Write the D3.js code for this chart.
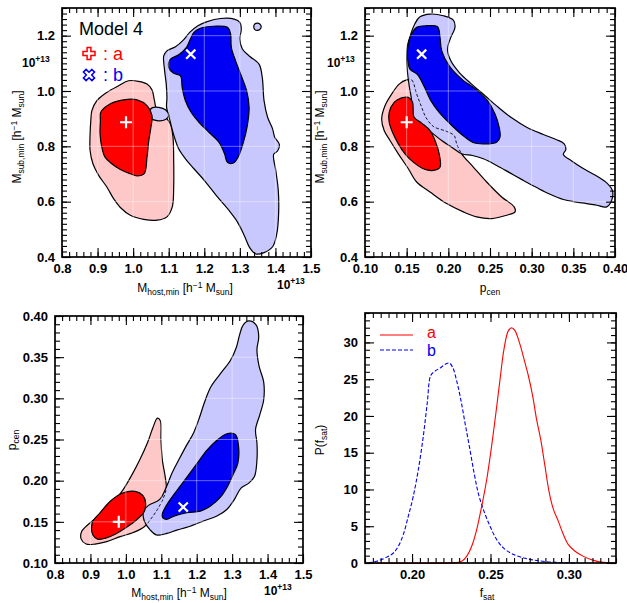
<!DOCTYPE html>
<html>
<head>
<meta charset="utf-8">
<script src="https://cdn.jsdelivr.net/npm/d3@7"></script>
<style>
body { margin: 0; background: #fff; }
svg text { font-family: "Liberation Sans", Arial, Helvetica, sans-serif; }
</style>
</head>
<body>
<svg id="fig" width="627" height="603"></svg>
<script>
// ---- data ----
// best fit points: [Mhost (1e13), Msub (1e13), pcen]
var bestA = [0.980, 0.887, 0.150];
var bestB = [1.162, 1.133, 0.168];

// panel 1 : Mhost vs Msub
var p1RedOuter = [[0.884,0.929],[0.898,0.965],[0.926,0.995],[0.959,1.019],[0.987,1.037],[1.015,1.035],[1.039,1.025],[1.053,1.004],[1.060,0.965],[1.067,0.929],[1.091,0.905],[1.105,0.881],[1.112,0.833],[1.114,0.749],[1.114,0.653],[1.110,0.581],[1.095,0.545],[1.067,0.533],[1.030,0.536],[0.992,0.551],[0.964,0.579],[0.945,0.611],[0.926,0.653],[0.903,0.695],[0.887,0.737],[0.879,0.785],[0.879,0.845],[0.881,0.893]];
var p1RedInner = [[0.909,0.923],[0.935,0.953],[0.973,0.968],[1.011,0.968],[1.039,0.947],[1.053,0.911],[1.050,0.869],[1.044,0.821],[1.039,0.761],[1.031,0.701],[1.011,0.693],[0.992,0.701],[0.964,0.716],[0.940,0.737],[0.921,0.761],[0.912,0.797],[0.907,0.845],[0.908,0.893]];
var p1BlueOuter = [[1.086,1.127],[1.095,1.145],[1.119,1.160],[1.141,1.184],[1.159,1.212],[1.182,1.236],[1.208,1.251],[1.246,1.262],[1.284,1.260],[1.300,1.248],[1.304,1.224],[1.300,1.188],[1.307,1.152],[1.329,1.124],[1.354,1.097],[1.363,1.049],[1.368,0.965],[1.378,0.905],[1.392,0.863],[1.398,0.833],[1.411,0.807],[1.406,0.783],[1.395,0.771],[1.401,0.713],[1.408,0.641],[1.409,0.557],[1.404,0.485],[1.392,0.437],[1.368,0.416],[1.345,0.411],[1.329,0.431],[1.312,0.479],[1.293,0.527],[1.269,0.569],[1.237,0.617],[1.204,0.671],[1.171,0.719],[1.147,0.755],[1.128,0.791],[1.116,0.833],[1.107,0.875],[1.100,0.911],[1.094,0.941],[1.095,0.977],[1.093,1.025],[1.088,1.079]];
var p1BlueBlob = [[1.044,0.923],[1.053,0.939],[1.072,0.941],[1.091,0.932],[1.100,0.911],[1.091,0.897],[1.067,0.893],[1.048,0.903]];
var p1BlueDot = [[1.360,1.232],[1.356,1.242],[1.349,1.245],[1.342,1.242],[1.339,1.232],[1.342,1.222],[1.349,1.219],[1.356,1.222]];
var p1BlueInner = [[1.171,1.212],[1.189,1.227],[1.227,1.234],[1.265,1.230],[1.274,1.206],[1.276,1.158],[1.288,1.109],[1.304,1.055],[1.319,1.001],[1.326,0.941],[1.321,0.875],[1.310,0.815],[1.295,0.761],[1.282,0.740],[1.265,0.742],[1.257,0.773],[1.241,0.815],[1.213,0.851],[1.185,0.887],[1.163,0.923],[1.147,0.965],[1.138,1.011],[1.133,1.055],[1.114,1.064],[1.100,1.085],[1.105,1.115],[1.128,1.131],[1.150,1.158],[1.161,1.188]];

// panel 2 : pcen vs Msub
var p2RedOuter = [[0.150,1.040],[0.156,1.040],[0.162,0.989],[0.168,0.941],[0.173,0.905],[0.182,0.872],[0.198,0.854],[0.207,0.839],[0.210,0.809],[0.216,0.773],[0.230,0.725],[0.246,0.671],[0.264,0.617],[0.279,0.581],[0.280,0.563],[0.270,0.551],[0.252,0.539],[0.234,0.545],[0.218,0.563],[0.198,0.593],[0.178,0.635],[0.162,0.671],[0.152,0.719],[0.140,0.773],[0.130,0.821],[0.123,0.857],[0.120,0.899],[0.124,0.947],[0.132,0.989],[0.141,1.025]];
var p2RedInner = [[0.129,0.923],[0.135,0.959],[0.144,0.975],[0.152,0.977],[0.157,0.959],[0.159,0.905],[0.168,0.884],[0.178,0.857],[0.184,0.821],[0.189,0.773],[0.190,0.725],[0.182,0.713],[0.170,0.719],[0.158,0.743],[0.148,0.773],[0.140,0.809],[0.133,0.851],[0.129,0.887]];
var p2BlueOuter = [[0.166,1.268],[0.178,1.278],[0.194,1.272],[0.206,1.256],[0.208,1.230],[0.203,1.194],[0.199,1.151],[0.203,1.109],[0.214,1.064],[0.228,1.025],[0.244,0.983],[0.260,0.941],[0.276,0.903],[0.294,0.869],[0.314,0.843],[0.330,0.824],[0.339,0.809],[0.341,0.788],[0.338,0.771],[0.348,0.747],[0.364,0.716],[0.380,0.689],[0.391,0.665],[0.397,0.639],[0.396,0.605],[0.390,0.581],[0.378,0.587],[0.366,0.593],[0.352,0.599],[0.338,0.608],[0.322,0.627],[0.306,0.651],[0.290,0.677],[0.274,0.704],[0.258,0.731],[0.242,0.755],[0.229,0.767],[0.216,0.773],[0.204,0.797],[0.192,0.821],[0.182,0.845],[0.172,0.869],[0.161,0.887],[0.157,0.911],[0.156,0.965],[0.153,1.019],[0.151,1.067],[0.150,1.115],[0.151,1.164],[0.155,1.206],[0.160,1.244]];
var p2BlueInner = [[0.162,1.230],[0.174,1.236],[0.187,1.232],[0.190,1.194],[0.192,1.146],[0.201,1.091],[0.216,1.043],[0.234,1.004],[0.247,0.965],[0.256,0.917],[0.261,0.869],[0.262,0.833],[0.258,0.815],[0.242,0.809],[0.229,0.815],[0.216,0.843],[0.203,0.879],[0.189,0.923],[0.179,0.965],[0.171,1.016],[0.163,1.059],[0.154,1.079],[0.151,1.121],[0.152,1.170],[0.156,1.206]];

// panel 3 : Mhost vs pcen
var p3RedOuter = [[1.089,0.276],[1.097,0.273],[1.099,0.250],[1.103,0.225],[1.111,0.205],[1.114,0.191],[1.104,0.177],[1.089,0.165],[1.073,0.155],[1.052,0.144],[1.021,0.137],[0.984,0.132],[0.946,0.126],[0.913,0.123],[0.888,0.123],[0.874,0.129],[0.875,0.138],[0.897,0.148],[0.927,0.159],[0.960,0.172],[0.989,0.187],[1.017,0.207],[1.040,0.226],[1.061,0.246],[1.076,0.264]];
var p3RedInner = [[0.907,0.151],[0.927,0.161],[0.956,0.175],[0.991,0.185],[1.026,0.187],[1.048,0.182],[1.056,0.172],[1.050,0.161],[1.029,0.152],[1.001,0.143],[0.970,0.135],[0.941,0.130],[0.920,0.129],[0.907,0.134],[0.903,0.142]];
var p3BlueOuter = [[1.347,0.394],[1.368,0.389],[1.375,0.375],[1.370,0.359],[1.376,0.339],[1.389,0.320],[1.389,0.298],[1.378,0.280],[1.366,0.262],[1.370,0.246],[1.370,0.225],[1.363,0.205],[1.347,0.197],[1.325,0.191],[1.306,0.177],[1.285,0.165],[1.257,0.157],[1.219,0.151],[1.177,0.144],[1.144,0.140],[1.116,0.136],[1.087,0.134],[1.069,0.140],[1.052,0.151],[1.050,0.163],[1.064,0.170],[1.095,0.177],[1.114,0.192],[1.130,0.209],[1.149,0.225],[1.170,0.242],[1.191,0.258],[1.208,0.277],[1.221,0.294],[1.240,0.314],[1.267,0.330],[1.295,0.346],[1.312,0.362],[1.321,0.377],[1.331,0.389]];
var p3BlueInner = [[1.102,0.157],[1.116,0.171],[1.144,0.188],[1.172,0.204],[1.201,0.221],[1.229,0.237],[1.257,0.249],[1.285,0.257],[1.309,0.256],[1.318,0.242],[1.316,0.221],[1.302,0.207],[1.287,0.193],[1.267,0.180],[1.238,0.169],[1.210,0.163],[1.172,0.161],[1.136,0.157],[1.114,0.153]];

// panel 4 : P(fsat)
var fsatA = [[0.170,0],[0.2284,0.05],[0.2316,0.23],[0.2348,0.91],[0.2380,2.27],[0.2412,4.55],[0.2444,7.73],[0.2476,11.36],[0.2507,15.9],[0.2535,20.5],[0.2561,25.0],[0.2586,29.1],[0.2614,31.6],[0.2635,32.0],[0.2656,31.6],[0.2684,30.0],[0.2714,27.7],[0.2741,25.5],[0.2769,22.7],[0.2794,19.5],[0.2820,16.8],[0.2847,13.2],[0.2875,9.5],[0.2901,7.3],[0.2932,5.7],[0.2964,3.9],[0.2996,2.5],[0.3039,1.6],[0.3092,0.9],[0.3156,0.36],[0.3219,0.09],[0.330,0]];
var fsatB = [[0.1721,0],[0.1774,0.23],[0.1827,0.68],[0.1881,1.36],[0.1912,2.27],[0.1944,3.86],[0.1976,6.36],[0.2008,9.1],[0.2040,12.7],[0.2072,17.3],[0.2097,21.8],[0.2119,25.5],[0.2146,26.1],[0.2178,26.5],[0.2210,27.0],[0.2238,27.2],[0.2259,26.6],[0.2284,24.8],[0.2310,22.3],[0.2337,19.1],[0.2365,15.9],[0.2395,12.3],[0.2422,9.5],[0.2454,7.3],[0.2497,5.0],[0.2539,3.2],[0.2582,2.05],[0.2635,1.27],[0.2699,0.77],[0.2773,0.41],[0.2858,0.18],[0.2964,0.05],[0.3049,0]];

// tick labels
var hostTicks = [0.8, 0.9, 1.0, 1.1, 1.2, 1.3, 1.4, 1.5];
var subTicks = [0.4, 0.6, 0.8, 1.0, 1.2];
var pcenXTicks = [0.10, 0.15, 0.20, 0.25, 0.30, 0.35, 0.40];
var pcenYTicks = [0.10, 0.15, 0.20, 0.25, 0.30, 0.35, 0.40];
var fsatTicks = [0.20, 0.25, 0.30];
var probTicks = [0, 5, 10, 15, 20, 25, 30];

var PINK = "#ffc8c8", RED = "#ff0000", LBLUE = "#c8c8ff", BLUE = "#0000f5";

var svg = d3.select("#fig");
var defs = svg.append("defs");
var clipId = 0;

function makePanel(o) {
  var g = svg.append("g");
  var x = d3.scaleLinear().domain(o.xd).range([o.l, o.r]);
  var y = d3.scaleLinear().domain(o.yd).range([o.b, o.t]);
  return { g: g, x: x, y: y, o: o };
}

function drawAxes(p) {
  var g = p.g, x = p.x, y = p.y, o = p.o;
  var xMinor = d3.range(0, Math.round((o.xd[1] - o.xd[0]) / o.xm) + 1).map(function(i) { return o.xd[0] + i * o.xm; });
  var yMinor = d3.range(0, Math.round((o.yd[1] - o.yd[0]) / o.ym) + 1).map(function(i) { return o.yd[0] + i * o.ym; });

  function ax(gen, tr, vals, len, fmt) {
    var a = gen.tickValues(vals).tickSizeInner(-len).tickSizeOuter(0).tickPadding(7);
    a.tickFormat(fmt ? fmt : "");
    var s = g.append("g").attr("transform", tr).call(a);
    s.select(".domain").remove();
    s.selectAll("line").attr("stroke", "#000").attr("stroke-width", 1.1);
    s.selectAll("text").attr("fill", "#000").style("font-size", "13px").style("font-weight", "bold");
    return s;
  }
  // minor ticks, all four sides
  ax(d3.axisBottom(x), "translate(0," + o.b + ")", xMinor, 5);
  ax(d3.axisTop(x), "translate(0," + o.t + ")", xMinor, 5);
  ax(d3.axisLeft(y), "translate(" + o.l + ",0)", yMinor, 5);
  ax(d3.axisRight(y), "translate(" + o.r + ",0)", yMinor, 5);
  // major ticks with labels
  ax(d3.axisBottom(x), "translate(0," + o.b + ")", o.xt, 9, d3.format(o.xf));
  ax(d3.axisTop(x), "translate(0," + o.t + ")", o.xt, 9);
  ax(d3.axisLeft(y), "translate(" + o.l + ",0)", o.yt, 9, d3.format(o.yf));
  ax(d3.axisRight(y), "translate(" + o.r + ",0)", o.yt, 9);

  g.append("rect").attr("x", o.l).attr("y", o.t)
    .attr("width", o.r - o.l).attr("height", o.b - o.t)
    .attr("fill", "none").attr("stroke", "#000").attr("stroke-width", 1.7);
}

function grid(p) {
  var g = p.g, o = p.o;
  g.append("g").selectAll("line.gx").data(o.xt).join("line")
    .attr("x1", function(d) { return p.x(d); }).attr("x2", function(d) { return p.x(d); })
    .attr("y1", o.t).attr("y2", o.b)
    .attr("stroke", "#fff").attr("stroke-opacity", 0.4).attr("stroke-width", 1);
  g.append("g").selectAll("line.gy").data(o.yt).join("line")
    .attr("y1", function(d) { return p.y(d); }).attr("y2", function(d) { return p.y(d); })
    .attr("x1", o.l).attr("x2", o.r)
    .attr("stroke", "#fff").attr("stroke-opacity", 0.4).attr("stroke-width", 1);
}

function closedLine(p) {
  return d3.line().x(function(d) { return p.x(d[0]); }).y(function(d) { return p.y(d[1]); })
    .curve(d3.curveCatmullRomClosed.alpha(0.5));
}

function region(p, pts, fill) {
  p.g.append("path").datum(pts).attr("d", closedLine(p))
    .attr("fill", fill).attr("stroke", "#000").attr("stroke-width", 1.2);
}

function dashedInside(p, pts, clipPts) {
  var id = "clip" + (clipId++);
  defs.append("clipPath").attr("id", id).append("path").datum(clipPts).attr("d", closedLine(p));
  p.g.append("path").datum(pts).attr("d", closedLine(p))
    .attr("fill", "none").attr("stroke", "#000").attr("stroke-width", 0.9)
    .attr("stroke-dasharray", "3,2").attr("clip-path", "url(#" + id + ")");
}

function plusMark(p, cx, cy) {
  var X = p.x(cx), Y = p.y(cy), s = 6;
  p.g.append("path").attr("d", "M" + (X - s) + "," + Y + "H" + (X + s) + "M" + X + "," + (Y - s) + "V" + (Y + s))
    .attr("stroke", "#fff").attr("stroke-width", 2.2);
}
function crossMark(p, cx, cy) {
  var X = p.x(cx), Y = p.y(cy), s = 4.6;
  p.g.append("path").attr("d", "M" + (X - s) + "," + (Y - s) + "L" + (X + s) + "," + (Y + s) + "M" + (X + s) + "," + (Y - s) + "L" + (X - s) + "," + (Y + s))
    .attr("stroke", "#fff").attr("stroke-width", 2.2);
}

// title with sub/superscripts: parts = [[text, "n"|"sub"|"sup"], ...]
function title(g, x, y, parts, rot) {
  var t = g.append("text").attr("text-anchor", "middle").style("font-size", "12px").attr("fill", "#000");
  if (rot) t.attr("transform", "translate(" + x + "," + y + ") rotate(-90)");
  else t.attr("x", x).attr("y", y);
  var shift = 0;
  parts.forEach(function(pt) {
    var target = pt[1] === "sub" ? 3 : pt[1] === "sup" ? -4 : 0;
    t.append("tspan").attr("dy", target - shift)
      .style("font-size", pt[1] === "n" ? "12px" : "8.5px").text(pt[0]);
    shift = target;
  });
}
function expo(g, x, y) {
  var t = g.append("text").attr("x", x).attr("y", y).attr("fill", "#000")
    .style("font-weight", "bold").style("font-size", "12px");
  t.append("tspan").text("10");
  t.append("tspan").attr("dy", -5).style("font-size", "8.5px").text("+13");
}

var massTitleHost = [["M", "n"], ["host,min", "sub"], [" [h", "n"], ["\u22121", "sup"], [" M", "n"], ["sun", "sub"], ["]", "n"]];
var massTitleSub = [["M", "n"], ["sub,min", "sub"], [" [h", "n"], ["\u22121", "sup"], [" M", "n"], ["sun", "sub"], ["]", "n"]];

// ---- panel 1 ----
var P1 = makePanel({ l: 62, r: 311, t: 8, b: 257, xd: [0.8, 1.5], yd: [0.4, 1.3],
  xt: hostTicks, yt: subTicks, xm: 0.02, ym: 0.02, xf: ".1f", yf: ".1f" });
region(P1, p1RedOuter, PINK);
region(P1, p1BlueOuter, LBLUE);
region(P1, p1BlueBlob, LBLUE);
region(P1, p1BlueDot, LBLUE);
region(P1, p1RedInner, RED);
region(P1, p1BlueInner, BLUE);
grid(P1);
plusMark(P1, bestA[0], bestA[1]);
crossMark(P1, bestB[0], bestB[1]);
drawAxes(P1);
expo(P1.g, 22, 67);
expo(P1.g, 277, 289);
title(P1.g, 185, 292, massTitleHost);
title(P1.g, 21, 137, massTitleSub, true);

// legend of panel 1
P1.g.append("text").attr("x", 79).attr("y", 35).style("font-size", "18px").text("Model 4");
(function() {
  var w = 1.9, L = 6;
  var cross = [[-w,-L],[w,-L],[w,-w],[L,-w],[L,w],[w,w],[w,L],[-w,L],[-w,w],[-L,w],[-L,-w],[-w,-w]];
  var path = "M" + cross.map(function(c) { return c.join(","); }).join("L") + "Z";
  P1.g.append("path").attr("d", path).attr("transform", "translate(89,53.5)")
    .attr("fill", "#fff").attr("stroke", RED).attr("stroke-width", 1.5);
  P1.g.append("path").attr("d", path).attr("transform", "translate(89,75) rotate(45)")
    .attr("fill", "#fff").attr("stroke", BLUE).attr("stroke-width", 1.5);
  P1.g.append("text").attr("x", 103).attr("y", 60).attr("fill", RED).style("font-size", "18px").text(": a");
  P1.g.append("text").attr("x", 103).attr("y", 81).attr("fill", BLUE).style("font-size", "18px").text(": b");
})();

// ---- panel 2 ----
var P2 = makePanel({ l: 365, r: 615, t: 8, b: 257, xd: [0.10, 0.40], yd: [0.4, 1.3],
  xt: pcenXTicks, yt: subTicks, xm: 0.01, ym: 0.02, xf: ".2f", yf: ".1f" });
region(P2, p2RedOuter, PINK);
region(P2, p2BlueOuter, LBLUE);
dashedInside(P2, p2RedOuter, p2BlueOuter);
region(P2, p2RedInner, RED);
region(P2, p2BlueInner, BLUE);
grid(P2);
plusMark(P2, bestA[2], bestA[1]);
crossMark(P2, bestB[2], bestB[1]);
drawAxes(P2);
expo(P2.g, 327, 67);
title(P2.g, 490, 292, [["p", "n"], ["cen", "sub"]]);
title(P2.g, 324, 137, massTitleSub, true);

// ---- panel 3 ----
var P3 = makePanel({ l: 55, r: 303, t: 316, b: 563, xd: [0.8, 1.5], yd: [0.10, 0.40],
  xt: hostTicks, yt: pcenYTicks, xm: 0.02, ym: 0.01, xf: ".1f", yf: ".2f" });
region(P3, p3RedOuter, PINK);
region(P3, p3BlueOuter, LBLUE);
dashedInside(P3, p3RedOuter, p3BlueOuter);
region(P3, p3RedInner, RED);
region(P3, p3BlueInner, BLUE);
grid(P3);
plusMark(P3, bestA[0], bestA[2]);
crossMark(P3, bestB[0], bestB[2]);
drawAxes(P3);
expo(P3.g, 264, 595);
title(P3.g, 179, 597, massTitleHost);
title(P3.g, 16, 440, [["p", "n"], ["cen", "sub"]], true);

// ---- panel 4 ----
var P4 = makePanel({ l: 365, r: 616, t: 313, b: 563, xd: [0.17, 0.33], yd: [0, 34],
  xt: fsatTicks, yt: probTicks, xm: 0.005, ym: 1, xf: ".2f", yf: "d" });
var curve = d3.line().x(function(d) { return P4.x(d[0]); }).y(function(d) { return P4.y(d[1]); })
  .curve(d3.curveCatmullRom.alpha(0.5));
P4.g.append("path").datum(fsatB).attr("d", curve).attr("fill", "none")
  .attr("stroke", BLUE).attr("stroke-width", 1.1).attr("stroke-dasharray", "4,2");
P4.g.append("path").datum(fsatA).attr("d", curve).attr("fill", "none")
  .attr("stroke", RED).attr("stroke-width", 1.1);
drawAxes(P4);
title(P4.g, 487, 597, [["f", "n"], ["sat", "sub"]]);
title(P4.g, 324, 440, [["P(f", "n"], ["sat", "sub"], [")", "n"]], true);
// legend
P4.g.append("line").attr("x1", 380).attr("x2", 413).attr("y1", 335).attr("y2", 335)
  .attr("stroke", RED).attr("stroke-width", 1.1);
P4.g.append("line").attr("x1", 380).attr("x2", 413).attr("y1", 350).attr("y2", 350)
  .attr("stroke", BLUE).attr("stroke-width", 1.1).attr("stroke-dasharray", "4,2");
P4.g.append("text").attr("x", 427).attr("y", 338).attr("fill", RED).style("font-size", "16px").text("a");
P4.g.append("text").attr("x", 427).attr("y", 356).attr("fill", BLUE).style("font-size", "16px").text("b");
</script>
</body>
</html>
